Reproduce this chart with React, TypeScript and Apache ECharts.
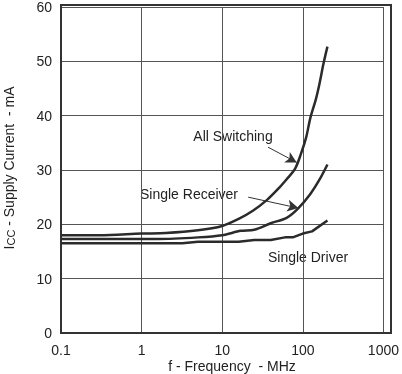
import React, { useEffect, useRef } from "react";
import * as echarts from "echarts";

const freqAll = [0.1, 0.3, 1, 2, 5, 10, 16, 24, 36, 50, 63, 80, 95, 110, 124, 145, 160, 180, 202];
const allSwitching = [18.0, 18.0, 18.3, 18.4, 18.9, 19.7, 21.0, 22.5, 24.5, 26.6, 28.3, 30.2, 33.0, 36.0, 39.6, 43.0, 45.7, 49.5, 52.7];

const freqRx = [0.1, 1.6, 5, 10, 17, 25, 40, 63, 87, 124, 165, 202];
const singleReceiver = [17.3, 17.3, 17.6, 18.0, 18.8, 19.0, 20.2, 21.2, 22.9, 25.6, 28.5, 31.0];

const freqDrv = [0.1, 3.2, 5, 16, 25, 40, 60, 75, 100, 130, 202];
const singleDriver = [16.5, 16.5, 16.8, 16.8, 17.1, 17.1, 17.6, 17.6, 18.3, 18.7, 20.7];

const xTicks = ["0.1", "1", "10", "100", "1000"];

const toPairs = (xs: number[], ys: number[]) => xs.map((x, i) => [x, ys[i]]);

export default function App() {
  const ref = useRef<HTMLDivElement>(null);
  useEffect(() => {
    document.body.style.margin = "0";
    const chart = echarts.init(ref.current!, null, { renderer: "svg" });
    const font = "Liberation Sans, Arial, sans-serif";
    const lineStyle = { color: "#2b2b2b", width: 2.5 };
    const arrowLine = (from: number[], to: number[]) => ({
      silent: true,
      symbol: ["none", "arrow"],
      symbolSize: [9, 11],
      lineStyle: { color: "#333", width: 1, type: "solid" },
      label: { show: false },
      data: [[{ coord: from }, { coord: to }]],
    });
    chart.setOption({
      animation: false,
      grid: { left: 61, right: 11, top: 5, bottom: 41 },
      xAxis: {
        type: "log",
        logBase: 10,
        min: 0.1,
        max: 1000,
        axisLine: { show: true, lineStyle: { color: "#333", width: 2 } },
        axisTick: { show: false },
        splitLine: { show: true, lineStyle: { color: "#555", width: 1 } },
        axisLabel: {
          color: "#222",
          fontSize: 14,
          fontFamily: font,
          margin: 10,
          formatter: (v: number) => {
            const idx = Math.round(Math.log10(v)) + 1;
            return xTicks[idx] ?? String(v);
          },
        },
      },
      yAxis: {
        type: "value",
        min: 0,
        max: 60,
        interval: 10,
        axisLine: { show: true, lineStyle: { color: "#333", width: 2 } },
        axisTick: { show: false },
        splitLine: { show: true, lineStyle: { color: "#555", width: 1 } },
        axisLabel: { color: "#222", fontSize: 14, fontFamily: font, margin: 9 },
      },
      graphic: [
        {
          type: "rect",
          shape: { x: 61, y: 5, width: 330, height: 328 },
          style: { fill: "none", stroke: "#333", lineWidth: 2 },
          silent: true,
        },
        {
          type: "text",
          x: 233,
          y: 136,
          style: { text: "All Switching", fontSize: 14, fontFamily: font, fill: "#222", align: "center", verticalAlign: "middle" },
        },
        {
          type: "text",
          x: 189,
          y: 194,
          style: { text: "Single Receiver", fontSize: 14, fontFamily: font, fill: "#222", align: "center", verticalAlign: "middle" },
        },
        {
          type: "text",
          x: 308,
          y: 257,
          style: { text: "Single Driver", fontSize: 14, fontFamily: font, fill: "#222", align: "center", verticalAlign: "middle" },
        },
        {
          type: "text",
          x: 232,
          y: 366,
          style: { text: "f - Frequency  - MHz", fontSize: 14, fontFamily: font, fill: "#222", align: "center", verticalAlign: "middle" },
        },
        {
          type: "text",
          x: 9,
          y: 168,
          rotation: Math.PI / 2,
          style: {
            text: "{a|I}{b|CC}{a| - Supply Current  - mA}",
            align: "center",
            verticalAlign: "middle",
            rich: {
              a: { fontSize: 14, fontFamily: font, fill: "#222", color: "#222" },
              b: { fontSize: 11, fontFamily: font, fill: "#222", color: "#222", padding: [4, 0, 0, 0] },
            },
          },
        },
      ],
      series: [
        {
          name: "All Switching",
          type: "line",
          data: toPairs(freqAll, allSwitching),
          showSymbol: false,
          smooth: 0.3,
          lineStyle,
          markLine: arrowLine([37, 34.2], [84, 31.4]),
        },
        {
          name: "Single Receiver",
          type: "line",
          data: toPairs(freqRx, singleReceiver),
          showSymbol: false,
          smooth: 0.3,
          lineStyle,
          markLine: arrowLine([21, 25.0], [88, 23.0]),
        },
        {
          name: "Single Driver",
          type: "line",
          data: toPairs(freqDrv, singleDriver),
          showSymbol: false,
          lineStyle,
        },
      ],
    });
    return () => chart.dispose();
  }, []);
  return <div ref={ref} style={{ position: "fixed", left: 0, top: 0, width: 402, height: 374 }} />;
}
